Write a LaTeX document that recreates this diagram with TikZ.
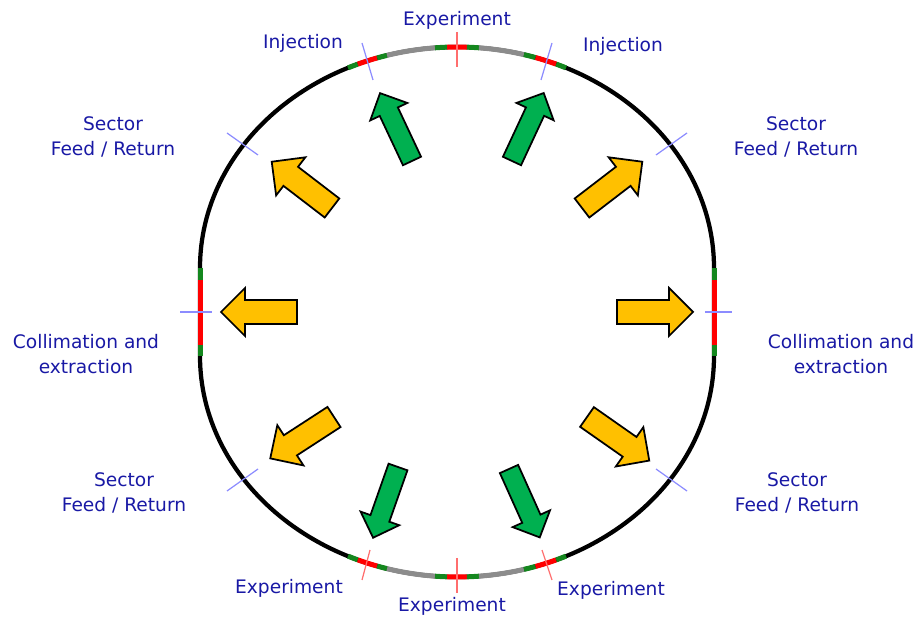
\documentclass[tikz,border=0pt]{standalone}
\usepackage{fontspec}
\setmainfont{DejaVu Sans}
\usepackage{xcolor}
\usetikzlibrary{positioning}
\definecolor{labelblue}{RGB}{25,25,165}
\definecolor{ringred}{RGB}{255,0,0}
\definecolor{ringgreen}{RGB}{20,135,30}
\definecolor{ringgray}{RGB}{140,140,140}
\definecolor{tickblue}{RGB}{140,140,255}
\definecolor{tickred}{RGB}{255,110,110}
\definecolor{arrowyellow}{RGB}{255,192,0}
\definecolor{arrowgreen}{RGB}{0,176,80}

\tikzset{
    ring/.style={line width=0.085cm},
    segment/.style={line width=0.1cm},
    tick/.style={line width=0.7pt},
    lbl/.style={text=labelblue, font=\fontsize{10.6}{14.7}\selectfont, align=center, inner sep=0pt},
    yellowarrow/.style={fill=arrowyellow, draw=black, line width=1pt},
    greenarrow/.style={fill=arrowgreen, draw=black, line width=1pt},
    pics/flowarrow/.style n args={3}{code={
        \draw[pic actions] (0,-#1) -- (#3-#2,-#1) -- (#3-#2,-#2) -- (#3,0)
            -- (#3-#2,#2) -- (#3-#2,#1) -- (0,#1) -- cycle;
    }}
}

\begin{document}
\begin{tikzpicture}[x=0.02cm, y=-0.02cm]
    \useasboundingbox (0,0) rectangle (919,617);

    % Ring
    \draw[ring] (200,268) arc[start angle=-180, end angle=0, x radius=257, y radius=221]
        -- (714,356) arc[start angle=0, end angle=180, x radius=257, y radius=221] -- cycle;

    % Coloured sections, top and bottom
    \foreach \a/\b/\c in {
        115.1/112.7/ringgreen, 112.7/108.1/ringred, 108.1/105.8/ringgreen,
        105.8/94.9/ringgray, 94.9/92.2/ringgreen, 92.2/87.8/ringred,
        87.8/85.1/ringgreen, 85.1/74.9/ringgray, 74.9/72.2/ringgreen,
        72.2/67.3/ringred, 67.3/64.9/ringgreen} {
        \draw[segment, draw=\c] (457,268) ++(-\a:257 and 221)
            arc[start angle=-\a, end angle=-\b, x radius=257, y radius=221];
        \draw[segment, draw=\c] (457,356) ++(\a:257 and 221)
            arc[start angle=\a, end angle=\b, x radius=257, y radius=221];
    }

    % Straight sections
    \foreach \x in {200,714} {
        \draw[segment, ringgreen] (\x,268) -- (\x,280);
        \draw[segment, ringred] (\x,280) -- (\x,345);
        \draw[segment, ringgreen] (\x,345) -- (\x,356);
    }

    % Ticks
    \draw[tick, tickred] (457,32) -- (457,67);
    \draw[tick, tickred] (457,558) -- (457,593);
    \draw[tick, tickred] (370,550) -- (362,580);
    \draw[tick, tickred] (542,550) -- (552,580);
    \draw[tick, tickblue] (362,43) -- (373,80);
    \draw[tick, tickblue] (552,43) -- (541,80);
    \draw[tick, tickblue] (180,312) -- (212,312);
    \draw[tick, tickblue] (705,312) -- (732,312);
    \draw[tick, tickblue] (227,133) -- (258,155);
    \draw[tick, tickblue] (687,133) -- (656,155);
    \draw[tick, tickblue] (227,491) -- (258,469);
    \draw[tick, tickblue] (687,491) -- (656,469);

    % Arrows
    \foreach \name/\pos/\ang in {
        collW/{297,312}/180, collE/{617,312}/0,
        feedNW/{332,208}/142.5, feedNE/{582,208}/37.5,
        feedSW/{334,417}/213, feedSE/{587,417}/-35} {
        \pic[yellowarrow, rotate=\ang] (\name) at (\pos) {flowarrow={12}{24}{76}};
    }
    \foreach \name/\pos/\ang in {
        injW/{412,161}/115.2, injE/{512,161}/65,
        expSW/{398,467}/250.6, expSE/{509,469}/-65.8} {
        \pic[greenarrow, rotate=\ang] (\name) at (\pos) {flowarrow={10}{20.5}{75}};
    }

    % Labels
    \node[lbl] (labExpN) at (457,20) {Experiment};
    \node[lbl] (labInjW) at (303,43) {Injection};
    \node[lbl] (labInjE) at (623,46) {Injection};
    \node[lbl] (labFeedNW) at (113,137) {Sector\\Feed / Return};
    \node[lbl] (labFeedNE) at (796,137) {Sector\\Feed / Return};
    \node[lbl] (labCollW) at (86,354) {Collimation and\\extraction};
    \node[lbl] (labCollE) at (841,354) {Collimation and\\extraction};
    \node[lbl] (labFeedSW) at (124,493) {Sector\\Feed / Return};
    \node[lbl] (labFeedSE) at (797,493) {Sector\\Feed / Return};
    \node[lbl] (labExpSW) at (289,588) {Experiment};
    \node[lbl] (labExpS) at (452,606) {Experiment};
    \node[lbl] (labExpSE) at (611,590) {Experiment};
\end{tikzpicture}
\end{document}
